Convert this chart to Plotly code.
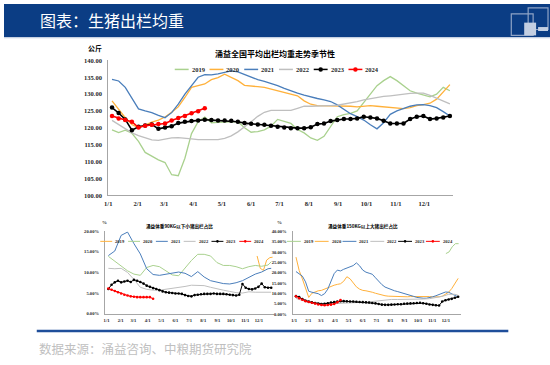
import plotly.graph_objects as go
import pandas as pd

W, H = 550, 365
def px(x): return x / W
def py(y): return 1 - y / H

# ---------------- data ----------------
WEEKS = pd.date_range("2023-01-05", periods=52, freq="7D")
BIWEEKS = WEEKS[::2].append(WEEKS[-1:])
MONTHS = pd.date_range("2023-01-01", periods=12, freq="MS")
YEARS = ["2019", "2020", "2021", "2022", "2023", "2024"]

MAIN_2019 = [119.4, 118.6, 119.3, 118.4, 116.0, 112.7, 111.6, 110.5, 109.7, 106.1,
             105.8, 111.0, 118.3, 121.8, 123.2, 121.5, 121.6, 121.8, 121.8, 121.8,
             120.0, 118.7, 118.9, 119.4, 120.5, 122.5, 122.0, 121.3, 119.5, 118.5,
             117.0, 116.3, 117.5, 120.5, 123.3, 123.9, 124.3, 125.0, 127.5, 130.0,
             132.5, 134.0, 135.2, 134.0, 132.5, 131.0, 130.3, 129.8, 129.2, 130.0,
             132.0, 131.0]
MAIN_2020 = [128.0, 125.5, 123.0, 121.0, 120.0, 120.8, 121.7, 122.3, 123.2, 124.6,
             126.2, 129.0, 132.0, 132.5, 133.0, 134.3, 134.9, 135.9, 135.0, 134.0,
             132.6, 132.3, 132.2, 132.0, 131.5, 131.0, 130.5, 130.0, 129.5, 128.0,
             127.0, 126.6, 126.6, 126.5, 126.6, 126.5, 126.4, 126.2, 126.3, 126.6,
             126.4, 126.2, 126.0, 125.9, 125.7, 126.0, 126.6, 126.9, 127.3, 128.5,
             130.5, 132.8]
MAIN_2021 = [134.4, 133.9, 132.0, 128.6, 125.6, 125.0, 124.5, 123.7, 123.0, 124.5,
             127.0, 130.0, 132.5, 135.0, 135.8, 135.7, 136.0, 136.5, 136.9, 136.6,
             135.8, 135.0, 134.3, 133.8, 133.2, 132.5, 131.7, 130.9, 130.3, 129.7,
             129.1, 128.7, 128.3, 127.8, 126.8, 125.4, 124.2, 123.3, 122.3, 120.9,
             119.7, 121.5, 124.0, 125.0, 125.8, 126.4, 126.8, 126.9, 126.6, 126.0,
             124.8, 123.5]
MAIN_2022 = [122.2, 121.0, 119.8, 118.5, 117.7, 117.0, 116.4, 116.3, 116.7, 117.0,
             117.1, 117.0, 116.7, 116.5, 116.5, 116.5, 116.5, 116.9, 117.6, 118.8,
             120.2, 121.8, 123.4, 124.6, 125.2, 125.2, 125.2, 125.2, 125.8, 126.4,
             126.4, 126.4, 126.5, 126.6, 126.7, 127.0, 127.4, 127.8, 128.3, 128.7,
             129.0, 129.3, 129.5, 129.8, 130.0, 130.2, 130.3, 130.3, 129.6, 128.8,
             128.0, 127.1]
MAIN_2023 = [126.0, 124.4, 122.5, 119.3, 120.3, 120.7, 121.0, 119.7, 120.1, 120.5,
             121.4, 121.8, 122.0, 122.2, 122.4, 122.3, 122.2, 122.2, 122.1, 121.8,
             121.4, 121.2, 121.0, 120.9, 120.6, 120.3, 120.1, 119.9, 119.9, 119.9,
             120.2, 121.1, 121.3, 122.0, 122.3, 122.6, 122.6, 122.8, 123.3, 123.1,
             122.8, 122.1, 121.3, 121.3, 121.3, 122.6, 123.3, 123.5, 122.6, 122.8,
             123.1, 123.5]
MAIN_2024 = [123.5, 122.8, 122.3, 121.8, 120.1, 120.6, 120.9, 121.1, 121.3, 122.2,
             122.9, 123.5, 124.3, 124.9, 125.8]

# share of pigs below 90 kg (%)
SMALL_2019_DATES = ["2023-11-27", "2023-12-04", "2023-12-11", "2023-12-18", "2023-12-25", "2023-12-31"]
SMALL_2019 = [14.0, 11.0, 10.5, 13.0, 13.6, 13.7]
SMALL_2020 = [13.9, 12.8, 11.6, 10.4, 9.6, 9.3, 11.2, 11.7, 11.4, 10.4, 9.4, 9.2, 11.0, 12.9,
              14.4, 14.4, 14.0, 12.4, 11.7, 11.7, 11.4, 10.9, 11.4, 11.7, 11.5, 11.8, 12.6]
SMALL_2021 = [14.1, 15.2, 19.0, 19.8, 17.0, 14.5, 10.9, 9.5, 9.3, 9.6, 9.9, 10.1, 9.8, 9.0,
              10.2, 8.9, 8.0, 7.6, 7.3, 7.2, 7.5, 8.0, 8.8, 9.6, 10.1, 10.9, 11.0]
SMALL_2022 = [11.0, 10.9, 11.0, 10.0, 8.3, 6.4, 5.9, 5.7, 5.7, 5.9, 6.1, 6.3, 6.6, 6.9,
              6.9, 6.8, 6.4, 6.0, 5.7, 5.4, 5.1, 5.0, 5.3, 5.2, 5.2, 5.2, 5.2]
SMALL_2023 = [6.0, 7.0, 7.6, 8.0, 7.6, 7.8, 8.0, 7.7, 8.2, 8.0,
              7.7, 7.3, 6.8, 6.5, 6.2, 6.0, 5.7, 5.4, 5.2, 5.1,
              5.0, 4.9, 4.9, 4.8, 4.5, 4.3, 4.2, 4.5, 4.6, 4.7,
              4.8, 4.8, 4.8, 4.9, 4.8, 4.8, 4.8, 4.7, 4.6, 4.5,
              4.4, 4.6, 7.2, 6.3, 6.0, 5.9, 6.1, 6.5, 7.3, 6.4,
              6.3, 6.3]
SMALL_2024 = [6.1, 5.8, 5.5, 5.2, 4.9, 4.6, 4.4, 4.2, 4.1, 4.0, 4.0, 4.0, 4.0, 4.0, 3.6]

# share of pigs above 150 kg (%)
LARGE_2019_DATES = ["2023-12-01", "2023-12-08", "2023-12-15", "2023-12-22", "2023-12-29"]
LARGE_2019 = [29.2, 30.0, 32.5, 34.0, 34.0]
LARGE_2020 = [27.5, 21.0, 17.0, 13.0, 8.0, 10.0, 10.8, 11.2, 11.4, 12.0,
              12.8, 13.5, 13.9, 14.3, 14.6, 15.8, 18.0, 17.0, 14.8, 13.1,
              12.0, 11.4, 11.2, 11.0, 10.5, 10.0, 9.5, 9.1, 8.8, 8.6,
              8.5, 8.4, 8.3, 8.3, 8.3, 8.3, 8.4, 8.4, 8.5, 8.7,
              8.6, 8.5, 8.4, 8.2, 8.1, 8.3, 8.6, 9.5, 10.5, 12.3,
              14.8, 17.2]
LARGE_2021 = [20.5, 19.5, 18.3, 15.5, 11.0, 10.5, 10.3, 9.8, 8.9, 9.8,
              12.0, 15.5, 19.5, 21.2, 20.8, 21.6, 22.3, 22.6, 23.4, 24.7,
              23.3, 21.2, 20.2, 19.7, 19.2, 17.5, 15.8, 14.2, 13.0, 12.3,
              11.7, 11.2, 10.8, 10.4, 9.9, 9.5, 9.0, 8.5, 8.0, 7.7,
              7.6, 7.6, 7.8, 8.3, 8.8, 9.4, 10.0, 10.6, 10.5, 9.8,
              9.0, 8.2]
LARGE_2022 = [7.5, 6.5, 5.5, 5.2, 5.0, 5.0, 5.0, 5.1, 5.2, 5.3, 5.5, 5.7, 6.0, 6.4,
              6.8, 7.0, 7.0, 7.0, 7.0, 7.1, 7.2, 7.4, 7.8, 8.5, 9.5, 9.5, 9.0]
LARGE_2023 = [8.6, 8.2, 7.2, 6.4, 6.0, 5.6, 5.3, 5.0, 4.8, 4.9,
              5.2, 5.5, 5.7, 6.0, 6.2, 6.2, 6.1, 6.0, 6.0, 5.9,
              5.8, 5.7, 5.6, 5.5, 5.3, 5.1, 4.8, 4.5, 4.4, 4.4,
              4.5, 4.6, 4.7, 4.7, 4.9, 5.0, 5.1, 5.2, 5.3, 5.4,
              5.2, 4.9, 4.6, 4.4, 4.2, 4.1, 6.0, 6.6, 7.0, 7.3,
              7.8, 8.3]
LARGE_2024 = [8.5, 7.6, 6.9, 6.2, 5.8, 5.4, 5.0, 4.6, 4.3, 4.2, 4.3, 4.5, 4.8, 5.6, 6.7]

for s in (MAIN_2019, MAIN_2020, MAIN_2021, MAIN_2022, MAIN_2023, SMALL_2023,
          LARGE_2020, LARGE_2021, LARGE_2023):
    assert len(s) == 52
for s in (SMALL_2020, SMALL_2021, SMALL_2022, LARGE_2022):
    assert len(s) == 27

# ---------------- styles ----------------
GREEN, ORANGE, BLUE, GRAY, BLACK, RED = "#A9D18E", "#FFB13B", "#4A7EBB", "#BFBFBF", "#000000", "#FF0000"
MAIN_COLORS = [GREEN, ORANGE, BLUE, GRAY, BLACK, RED]
SMALL_COLORS = [ORANGE, GREEN, BLUE, GRAY, BLACK, RED]
LARGE_COLORS = [GREEN, ORANGE, BLUE, GRAY, BLACK, RED]
SERIF = "Liberation Serif"
CJK = "Noto Sans CJK SC"

fig = go.Figure()

def add_series(xs, ys, color, axis, width, marker=None):
    mode = "lines+markers" if marker else "lines"
    fig.add_trace(go.Scatter(
        x=xs, y=ys, mode=mode, xaxis="x" + axis, yaxis="y" + axis,
        line=dict(color=color, width=width),
        marker=dict(size=marker or 1, color=color),
        showlegend=False, hoverinfo="skip"))

# main chart
main_x = [WEEKS] * 5 + [WEEKS[:len(MAIN_2024)]]
for xs, ys, c, mk in zip(main_x, [MAIN_2019, MAIN_2020, MAIN_2021, MAIN_2022, MAIN_2023, MAIN_2024],
                         MAIN_COLORS, [None, None, None, None, 4.5, 4.5]):
    add_series(xs, ys, c, "", 1.6 if mk else 1.3, mk)

# small pigs chart
small_x = [SMALL_2019_DATES, BIWEEKS, BIWEEKS, BIWEEKS, WEEKS, WEEKS[:len(SMALL_2024)]]
for xs, ys, c, mk in zip(small_x, [SMALL_2019, SMALL_2020, SMALL_2021, SMALL_2022, SMALL_2023, SMALL_2024],
                         SMALL_COLORS, [None, None, None, None, 2.6, 2.6]):
    add_series(xs, ys, c, "2", 1.0, mk)

# large pigs chart
large_x = [LARGE_2019_DATES, WEEKS, WEEKS, BIWEEKS, WEEKS, WEEKS[:len(LARGE_2024)]]
for xs, ys, c, mk in zip(large_x, [LARGE_2019, LARGE_2020, LARGE_2021, LARGE_2022, LARGE_2023, LARGE_2024],
                         LARGE_COLORS, [None, None, None, None, 2.6, 2.6]):
    add_series(xs, ys, c, "3", 1.0, mk)

axis_common = dict(showgrid=False, zeroline=False, showline=True, linecolor="#A6A6A6",
                   linewidth=1, ticks="", fixedrange=True)

def xaxis(domain, rng, size, anchor):
    return dict(axis_common, domain=domain, range=rng, type="date", anchor=anchor,
                tickvals=MONTHS, tickformat="%-m/%-d", ticklabelstandoff=2,
                tickfont=dict(family=SERIF, size=size, color="#262626", weight="bold"))

def yaxis(domain, rng, dtick, size, anchor, suffix=""):
    return dict(axis_common, domain=domain, range=rng, dtick=dtick, anchor=anchor,
                tickformat=".2f", ticksuffix=suffix, ticklabelstandoff=4,
                tickfont=dict(family=SERIF, size=size, color="#262626", weight="bold"))

fig.update_layout(
    width=W, height=H, margin=dict(l=0, r=0, t=0, b=0),
    paper_bgcolor="white", plot_bgcolor="white", showlegend=False, hovermode=False,
    xaxis=xaxis([px(105), px(452)], ["2023-01-01", "2023-12-31"], 6.5, "y"),
    yaxis=yaxis([py(195), py(57.5)], [100, 140], 5, 6.5, "x"),
    xaxis2=xaxis([px(101.7), px(271.7)], ["2022-12-28 12:00", "2024-01-02 12:00"], 4.6, "y2"),
    yaxis2=yaxis([py(315.7), py(231.7)], [0, 20], 5, 4.6, "x2", "%"),
    xaxis3=xaxis([px(290.7), px(460)], ["2022-12-28 12:00", "2024-01-02 12:00"], 4.6, "y3"),
    yaxis3=yaxis([py(316), py(231.7)], [0, 40], 5, 4.6, "x3", "%"),
)

def ann(x, y, text, size, color="#000000", family=CJK, weight="normal", xanchor="center"):
    fig.add_annotation(x=px(x), y=py(y), xref="paper", yref="paper", text=text,
                       showarrow=False, xanchor=xanchor, yanchor="middle",
                       font=dict(family=family, size=size, color=color, weight=weight))

def legend(x0, y, step, seg, colors, marker_size, fsize, lw):
    for i, (name, c) in enumerate(zip(YEARS, colors)):
        xs = x0 + i * step
        fig.add_shape(type="line", xref="paper", yref="paper", x0=px(xs), x1=px(xs + seg),
                      y0=py(y), y1=py(y), line=dict(color=c, width=lw))
        if name in ("2023", "2024"):
            r = marker_size / 2
            cx = xs + seg / 2
            fig.add_shape(type="circle", xref="paper", yref="paper", x0=px(cx - r), x1=px(cx + r),
                          y0=py(y + r), y1=py(y - r), fillcolor=c, line=dict(width=0))
        ann(xs + seg + 1, y, name, fsize, "#262626", SERIF, "bold", "left")

# header
fig.add_shape(type="rect", xref="paper", yref="paper", x0=0, x1=1, y0=py(34), y1=1,
              fillcolor="#0B3D84", line=dict(width=0), layer="below")
fig.add_shape(type="line", xref="paper", yref="paper", x0=0, x1=1, y0=py(34.5), y1=py(34.5),
              line=dict(color="#C9D3E3", width=1))
ann(34, 16.5, "图表：生猪出栏均重", 16, "white", CJK, "normal", "left")
# logo
fig.add_shape(type="rect", xref="paper", yref="paper", x0=px(511), x1=px(533), y0=py(32), y1=py(10),
              line=dict(color="#8FA4C6", width=1.2))
fig.add_shape(type="rect", xref="paper", yref="paper", x0=px(528), x1=px(548), y0=py(26), y1=py(4),
              line=dict(color="#8FA4C6", width=1.2))
fig.add_shape(type="rect", xref="paper", yref="paper", x0=px(524), x1=px(536), y0=py(32), y1=py(19),
              fillcolor="#C3CFE2", line=dict(width=0))
fig.add_shape(type="rect", xref="paper", yref="paper", x0=px(538), x1=px(548), y0=py(27.5), y1=py(23.5),
              fillcolor="#C3CFE2", line=dict(width=0))

# main chart texts
ann(92, 45, "公斤", 7, "#000000", CJK, "bold")
ann(273, 50, "涌益全国平均出栏均重走势季节性", 8, "#000000", CJK, "bold")
legend(172, 66.7, 35, 14, MAIN_COLORS, 4.5, 6.5, 1.5)

# small pigs chart texts
ann(101, 223, "%", 5, "#262626", SERIF, "bold")
ann(177, 227, "涌益体重90KG以下小猪出栏占比", 4.6, "#000000", CJK, "bold")
legend(97, 242, 28, 12, SMALL_COLORS, 2.6, 4.6, 1.0)

# large pigs chart texts
ann(278, 223, "%", 5, "#262626", SERIF, "bold")
ann(362, 227, "涌益体重150KG以上大猪出栏占比", 4.6, "#000000", CJK, "bold")
legend(285, 242, 28, 14, LARGE_COLORS, 2.6, 4.6, 1.0)

# footer
fig.add_shape(type="line", xref="paper", yref="paper", x0=px(33), x1=px(508), y0=py(333.5), y1=py(333.5),
              line=dict(color="#1F4E9A", width=2.5))
ann(33, 351.5, "数据来源：涌益咨询、中粮期货研究院", 12.5, "#BFBFBF", CJK, "normal", "left")

fig.write_html("out.html", config={"displayModeBar": False, "staticPlot": True},
               post_script="document.body.style.margin='0';document.body.style.overflow='hidden';")
